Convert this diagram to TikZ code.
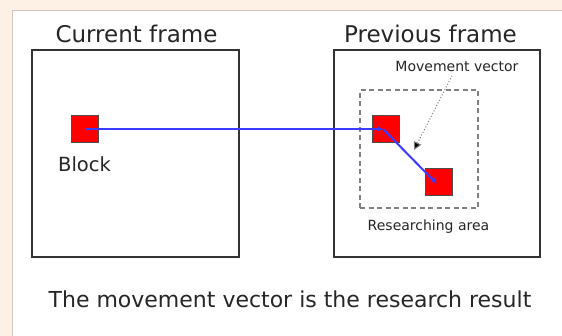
\documentclass[tikz,border=0pt]{standalone}
\usepackage{fontspec}
\setmainfont{DejaVu Sans}
\usetikzlibrary{positioning,arrows.meta}
\definecolor{pagepeach}{RGB}{253,240,228}
\definecolor{panelline}{RGB}{214,198,186}
\definecolor{vecblue}{RGB}{60,60,255}
\tikzset{
  frame box/.style={draw=black!80, line width=1.8pt, fill=white, minimum width=207pt, minimum height=207pt, inner sep=0pt},
  frame title/.style={anchor=base, font=\fontsize{23}{27}\selectfont, text=black!85},
  red block/.style={draw=black!70, line width=0.8pt, fill=red, minimum size=27pt, inner sep=0pt},
  search area/.style={draw=black!50, line width=1.3pt, dash pattern=on 5pt off 3.5pt, minimum size=118pt, inner sep=0pt},
  small label/.style={anchor=base, font=\fontsize{14}{17}\selectfont, text=black!85},
  vec line/.style={draw=vecblue, line width=2pt, -{Stealth[length=6pt,width=5pt,fill=blue!80!black]}},
  pointer line/.style={draw=black!50, line width=1pt, dotted, -{Triangle[length=8pt,width=8pt,fill=black]}},
}
\begin{document}
\begin{tikzpicture}[x=1pt,y=-1pt]
\useasboundingbox (0,0) rectangle (562,336);
% background and white panel
\fill[pagepeach] (0,0) rectangle (562,336);
\filldraw[fill=white, draw=panelline, line width=0.8pt] (12.5,10.5) rectangle (580,350);
% the frames
\node [frame box] (curframe) at (135.5,153.5) {};
\node [frame box, minimum width=206pt] (prevframe) at (437,153.5) {};
\node [frame title] (curtitle) at (136.5,43) {Current frame};
\node [frame title] (prevtitle) at (430.5,43) {Previous frame};
% the search area and the blocks
\node [search area] (area) at (419,149) {};
\node [red block] (block) at (84.5,129) {};
\node [red block] (oldblock) at (386,129) {};
\node [red block] (newblock) at (438.5,181.5) {};
% the labels
\node [anchor=base, font=\fontsize{19.5}{23}\selectfont, text=black!85] (blocklabel) at (84.5,172) {Block};
\node [small label] (mvlabel) at (457,72) {Movement vector};
\node [small label] (arealabel) at (428.5,231) {Researching area};
\node [anchor=base, font=\fontsize{22}{26}\selectfont, text=black!85] (result) at (290,308) {The movement vector is the research result};
%drawings of vectors
\draw[vec line] (block.center) -- ([xshift=-3pt]oldblock.center);
\draw[vec line] ([xshift=-3pt]oldblock.center) -- ([xshift=-2pt,yshift=-2pt]newblock.center);
\coordinate (mvtip) at (414,150);
\draw[pointer line] ([xshift=-5pt]mvlabel.south) -- (mvtip);
\end{tikzpicture}
\end{document}
